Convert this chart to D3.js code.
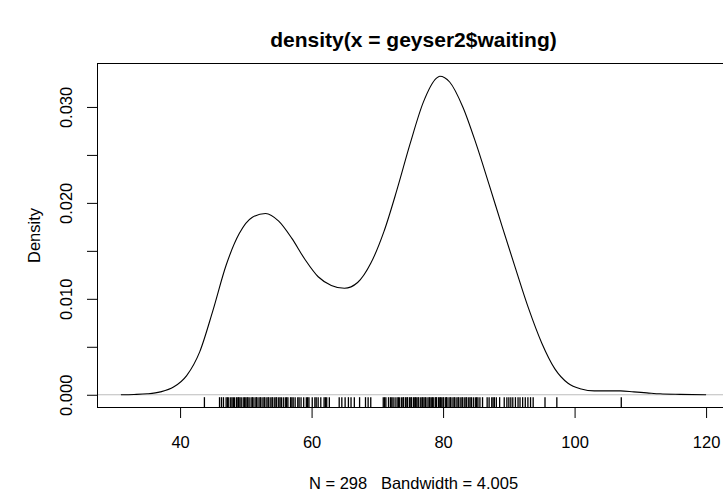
<!DOCTYPE html>
<html>
<head>
<meta charset="utf-8">
<script src="https://cdn.jsdelivr.net/npm/d3@7"></script>
<style>
  body { margin: 0; background: #fff; }
  svg { display: block; font-family: "Liberation Sans", Arial, Helvetica, sans-serif; }
  text { white-space: pre; }
</style>
</head>
<body>
<div id="chart"></div>
<script>
const width = 723;
const height = 495;

// density curve
const waiting = [31, 33, 35, 37, 39, 41, 43, 45, 47, 49, 51, 53, 55, 57, 59, 61, 63, 65, 67, 69,
  71, 73, 75, 77, 79, 79.5, 81, 83, 85, 87, 89, 91, 93, 95, 97, 99, 101, 103, 105, 107,
  109, 111, 113, 116, 120];
const density = [0, 0.00003, 0.0001, 0.0003, 0.0008, 0.0020, 0.0045, 0.0088, 0.0135, 0.0168,
  0.0185, 0.0189, 0.0181, 0.0163, 0.0141, 0.0123, 0.0114, 0.0111, 0.0117, 0.0137,
  0.0170, 0.0214, 0.0262, 0.0305, 0.0330, 0.0332, 0.0326, 0.0300, 0.0262, 0.0219,
  0.0175, 0.0132, 0.0090, 0.0054, 0.0027, 0.0012, 0.0006, 0.0004, 0.0004, 0.0004,
  0.0003, 0.0002, 0.0001, 0.00004, 0];

// rug (observations)
const rugValues = [43.7,
  46.0, 46.3, 46.6, 47.0, 47.2, 47.4, 47.7, 47.9, 48.1, 48.3, 48.6, 48.8, 48.9, 49.1, 49.3,
  49.6, 49.8, 50.0, 50.2, 50.3, 50.5, 50.8, 51.0, 51.1, 51.4, 51.6, 51.7, 52.0, 52.2, 52.3,
  52.6, 52.8, 52.9, 53.2, 53.4, 53.5, 53.8, 54.0, 54.1, 54.4, 54.6, 54.7, 55.0, 55.2, 55.4,
  55.7, 56.0, 56.2, 56.4, 56.8, 57.0, 57.2, 57.5, 57.9, 58.1, 58.4, 58.8, 59.2, 59.4, 59.6,
  60.1, 60.5, 60.7, 61.0, 61.4, 61.9, 62.1, 62.3, 62.7, 64.2, 64.6, 65.1, 65.6, 66.0, 66.5,
  67.3, 68.2, 68.6, 69.0, 70.9, 71.1, 71.3, 71.7, 72.0, 72.2, 72.4, 72.7, 73.0, 73.2, 73.4,
  73.7, 73.9, 74.0, 74.3, 74.5, 74.6, 74.9, 75.1, 75.2, 75.5, 75.7, 75.8, 76.0, 76.2, 76.3,
  76.6, 76.8, 76.9, 77.1, 77.3, 77.4, 77.7, 77.9, 78.0, 78.2, 78.4, 78.5, 78.8, 78.9, 79.0,
  79.3, 79.5, 79.6, 79.8, 80.0, 80.1, 80.4, 80.5, 80.6, 80.9, 81.1, 81.2, 81.5, 81.7, 81.8,
  82.1, 82.3, 82.4, 82.7, 82.9, 83.0, 83.3, 83.5, 83.6, 83.9, 84.1, 84.3, 84.6, 84.9, 85.1,
  85.3, 85.6, 86.0, 86.7, 87.0, 87.4, 87.6, 87.8, 88.1, 88.6, 89.3, 89.7, 90.0, 90.3, 90.6,
  91.0, 91.4, 91.7, 92.1, 92.5, 92.9, 93.3, 93.7, 95.5, 97.3, 107.1];

const xTicks = [40, 60, 80, 100, 120];
const yTicks = [0, 0.005, 0.010, 0.015, 0.020, 0.025, 0.030];
const yLabels = ["0.000", "0.010", "0.020", "0.030"];

const titleText = "density(x = geyser2$waiting)";
const subText = "N = 298   Bandwidth = 4.005";
const yTitle = "Density";

const margin = { top: 63.5, right: -6.5, bottom: 87.5, left: 97.5 };

const svg = d3.select("#chart")
  .append("svg")
  .attr("width", width)
  .attr("height", height);

svg.append("rect").attr("width", width).attr("height", height).attr("fill", "#fff");

// R style 4% padding
const xExt = d3.extent(waiting);
const xPad = (xExt[1] - xExt[0]) * 0.04;
const yMax = d3.max(density);
const yPad = yMax * 0.04;

const x = d3.scaleLinear()
  .domain([xExt[0] - xPad, xExt[1] + xPad])
  .range([margin.left, width - margin.right]);

const y = d3.scaleLinear()
  .domain([-yPad, yMax + yPad])
  .range([height - margin.bottom, margin.top]);

const fs = 16.5;
const plotBottom = height - margin.bottom;

// zero line
svg.append("line")
  .attr("x1", margin.left).attr("x2", width)
  .attr("y1", y(0)).attr("y2", y(0))
  .attr("stroke", "#bdbdbd").attr("stroke-width", 1);

// curve
const line = d3.line()
  .x((d, i) => x(waiting[i]))
  .y(d => y(d))
  .curve(d3.curveMonotoneX);

svg.append("path")
  .datum(density)
  .attr("d", line)
  .attr("fill", "none")
  .attr("stroke", "#000")
  .attr("stroke-width", 1.1);

// rug
const rugLen = (plotBottom - margin.top) * 0.03;
svg.append("g")
  .selectAll("line")
  .data(rugValues)
  .join("line")
  .attr("x1", d => x(d)).attr("x2", d => x(d))
  .attr("y1", plotBottom)
  .attr("y2", plotBottom - rugLen)
  .attr("stroke", "#000")
  .attr("stroke-width", 1.3);

// box
svg.append("rect")
  .attr("x", margin.left)
  .attr("y", margin.top)
  .attr("width", width - margin.right - margin.left)
  .attr("height", plotBottom - margin.top)
  .attr("fill", "none")
  .attr("stroke", "#000")
  .attr("stroke-width", 1);

// x axis
const xAxis = svg.append("g")
  .attr("transform", `translate(0,${plotBottom})`)
  .call(d3.axisBottom(x).tickValues(xTicks).tickSize(10.5).tickPadding(18).tickFormat(d3.format("d")));
xAxis.select(".domain").remove();
xAxis.selectAll("text").attr("font-size", fs).attr("font-family", null).attr("fill", "#000");

// y axis
const yAxis = svg.append("g")
  .attr("transform", `translate(${margin.left},0)`)
  .call(d3.axisLeft(y).tickValues(yTicks).tickSize(10.5).tickFormat(d => {
    const s = d3.format(".3f")(d);
    return yLabels.includes(s) ? s : "";
  }));
yAxis.select(".domain").remove();
yAxis.append("line")
  .attr("y1", y(yTicks[0])).attr("y2", y(yTicks[yTicks.length - 1]))
  .attr("stroke", "#000");
yAxis.selectAll(".tick text")
  .attr("font-size", fs).attr("font-family", null).attr("fill", "#000")
  .attr("text-anchor", "middle")
  .attr("x", null).attr("dy", null).attr("y", null)
  .attr("transform", "translate(-26,0) rotate(-90)");

// titles
svg.append("text")
  .attr("x", (margin.left + width - margin.right) / 2)
  .attr("y", 47)
  .attr("text-anchor", "middle")
  .attr("font-weight", "bold")
  .attr("font-size", 21)
  .text(titleText);

svg.append("text")
  .attr("x", (margin.left + width - margin.right) / 2)
  .attr("y", 489)
  .attr("text-anchor", "middle")
  .attr("font-size", fs)
  .text(subText);

svg.append("text")
  .attr("transform", `translate(40,${(margin.top + plotBottom) / 2}) rotate(-90)`)
  .attr("text-anchor", "middle")
  .attr("font-size", fs)
  .text(yTitle);
</script>
</body>
</html>
